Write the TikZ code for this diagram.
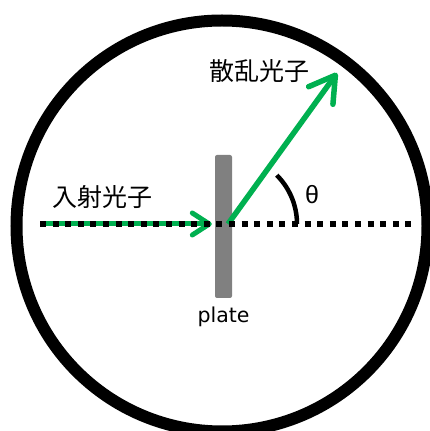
\documentclass[tikz,border=0pt]{standalone}
\usepackage{fontspec}
\setsansfont{DejaVu Sans}
\newfontfamily\jpfont{Noto Sans CJK JP}
\newfontfamily\greekfont{Liberation Sans}
\usetikzlibrary{positioning, arrows.meta, calc}

\definecolor{photongreen}{HTML}{00B050}
\definecolor{plategray}{HTML}{808080}

\begin{document}
\begin{tikzpicture}[x=1pt, y=1pt]
    \tikzset{
        photon/.style={photongreen, line width=5pt},
        smallbarb/.style={-{Straight Barb[length=17pt, width=22pt, round]}},
        bigbarb/.style={-{Straight Barb[length=25pt, width=30pt, round]}},
        beamaxis/.style={line width=6pt, dash pattern=on 6pt off 6.6pt},
        jplabel/.style={font=\jpfont\fontsize{25}{25}\selectfont, inner sep=0pt}
    }
    \useasboundingbox (0,0) rectangle (430,431);
    % Detector ring
    \draw[line width=12pt] (222,205) circle (205.5pt);
    % Target plate
    \node[fill=plategray, rounded corners=2pt, minimum width=17pt,
          minimum height=143pt, inner sep=0pt] (plate) at (223.5,204.5) {};
    \node[below=9pt of plate, font=\sffamily\fontsize{20.5}{20.5}\selectfont,
          inner sep=0pt] (platelabel) {plate};
    % Photons
    \coordinate (src) at (40,207);
    \coordinate (hit) at (228,207);
    \coordinate (dest) at (337,358);
    \draw[photon, smallbarb] (src) -- ($(src -| plate.west)+(-3,0)$);
    \draw[photon, line width=5.5pt, bigbarb] (hit) -- (dest);
    % Beam axis
    \coordinate (axisend) at (412,207);
    \draw[beamaxis] (src) -- (axisend);
    % Scattering angle
    \draw[line width=4.5pt] ($(hit)+(0:69)$) arc[start angle=0, end angle=45, radius=69pt];
    \node[font=\greekfont\fontsize{25}{25}\selectfont, inner sep=0pt] (theta) at (312,236) {θ};
    % Labels
    \node[jplabel] (inlabel) at (102,234) {入射光子};
    \node[jplabel] (outlabel) at (259,360) {散乱光子};
\end{tikzpicture}
\end{document}
